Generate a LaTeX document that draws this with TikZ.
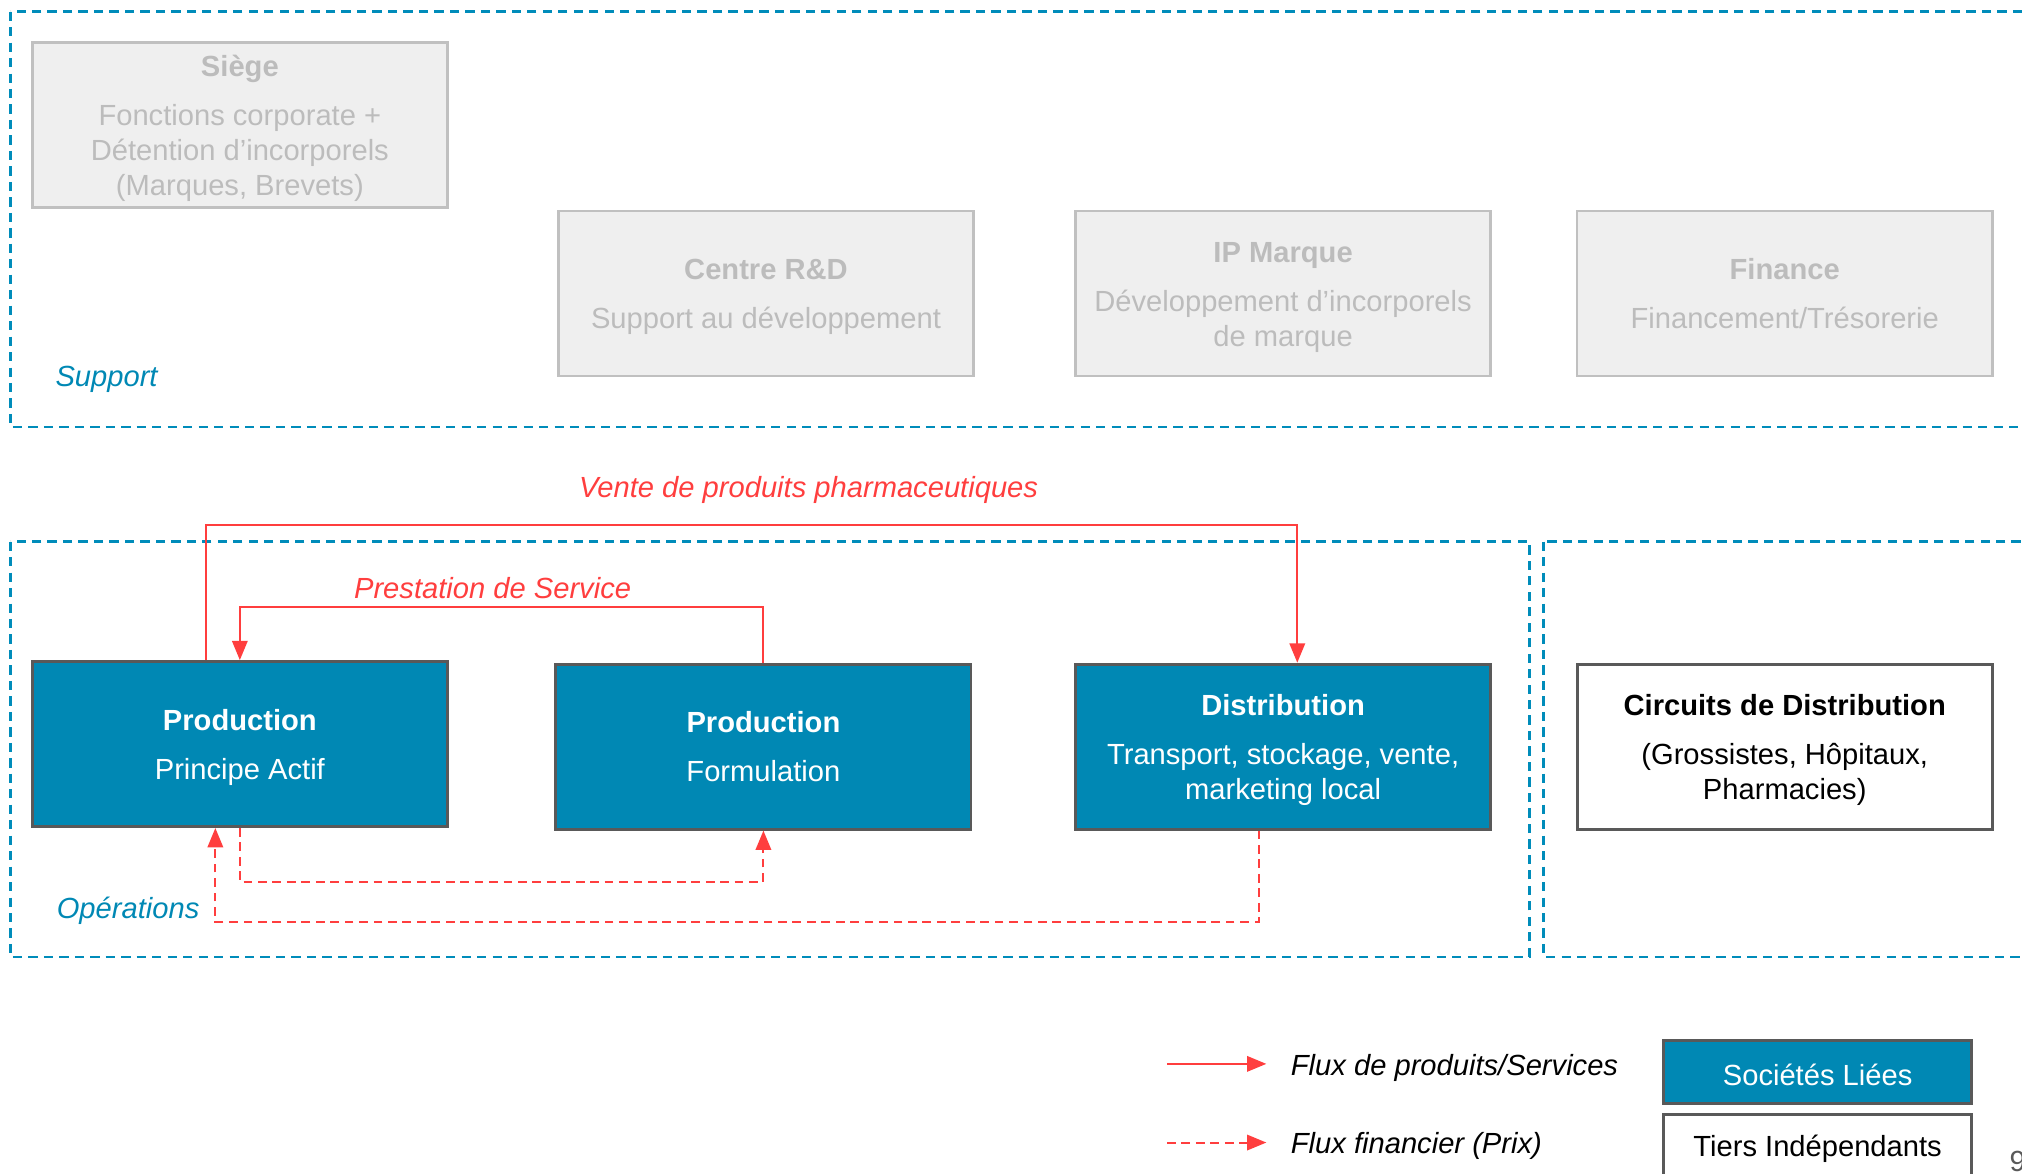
\documentclass[tikz,border=0pt]{standalone}
\usepackage{fontspec}
\setmainfont{Liberation Sans}
\usetikzlibrary{arrows.meta}
\newcommand{\hd}[1]{\rule{0pt}{10.8pt}\textbf{#1}}

\begin{document}
\begin{tikzpicture}[x=0.5pt,y=-0.5pt,
  font=\fontsize{11.3}{13.5}\selectfont,
  box/.style={rectangle,minimum width=161pt,minimum height=64pt,
    align=center,inner sep=2pt},
  supbox/.style={box,draw=g2,fill=g1,text=g3,line width=1pt},
  entbox/.style={box,draw=d1,fill=t1,text=white,line width=1.1pt},
  tierbox/.style={box,draw=d1,fill=white,text=black,line width=1.1pt},
  zone/.style={draw=t2,line width=1pt,dash pattern=on 3.6pt off 2.4pt},
  flux/.style={draw=r1,line width=0.8pt,
    -{Triangle[length=7.5pt,width=6pt]}},
  prix/.style={flux,dash pattern=on 3.4pt off 2.2pt},
  lbl/.style={text=r1,font=\fontsize{11.3}{13.5}\selectfont\itshape}]
 \definecolor{t1}{RGB}{0,136,180}
 \definecolor{t2}{RGB}{0,140,186}
 \definecolor{r1}{RGB}{255,62,62}
 \definecolor{g1}{RGB}{239,239,239}
 \definecolor{g2}{RGB}{192,192,192}
 \definecolor{g3}{RGB}{188,188,188}
 \definecolor{d1}{RGB}{89,89,89}
 \useasboundingbox (0,0) rectangle (1568,910);
 \clip (0,0) rectangle (1568,910);

 % zones
 \draw[zone] (8,9) rectangle (1600,331);
 \draw[zone] (8,420) rectangle (1186,742);
 \draw[zone] (1197,420) rectangle (1600,742);
 \node[anchor=west,text=t1,font=\fontsize{11.3}{13.5}\selectfont\itshape]
   (support) at (36,294) {Support};
 \node[anchor=west,text=t1,font=\fontsize{11.3}{13.5}\selectfont\itshape]
   (operations) at (37,706) {Opérations};

 % support
 \node[supbox] (siege) at (186,97)
   {\hd{Siège}\\[5.5pt]Fonctions corporate +\\Détention d’incorporels\\(Marques, Brevets)};
 \node[supbox] (rd) at (594,227.5)
   {\hd{Centre R\&D}\\[5.5pt]Support au développement};
 \node[supbox] (ip) at (995,227.5)
   {\hd{IP Marque}\\[5.5pt]Développement d’incorporels\\de marque};
 \node[supbox] (fin) at (1384,227.5)
   {\textbf{Finance}\\[5.5pt]Financement/Trésorerie};

 % operations
 \node[entbox] (pa) at (186,577) {\hd{Production}\\[5.5pt]Principe Actif};
 \node[entbox] (form) at (592,579) {\textbf{Production}\\[5.5pt]Formulation};
 \node[entbox] (dist) at (995,579)
   {\hd{Distribution}\\[5.5pt]Transport, stockage, vente,\\marketing local};
 \node[tierbox] (circ) at (1384,579)
   {\hd{Circuits de Distribution}\\[5.5pt](Grossistes, Hôpitaux,\\Pharmacies)};

 % flux
 \draw[flux] ([xshift=-13pt]pa.north) |- (1006,407) -- ([xshift=5.5pt]dist.north);
 \node[lbl] (vente) at (627,380) {Vente de produits pharmaceutiques};
 \draw[flux] (form.north) |- (186,471) -- (pa.north);
 \node[lbl] (prest) at (382,456) {Prestation de Service};
 \draw[prix] (pa.south) |- (592,684) -- (form.south);
 \draw[prix] ([xshift=-9.5pt]dist.south) |- (167,715) -- ([xshift=-9.5pt]pa.south);

 % legende
 \coordinate (l1a) at (905,825);
 \coordinate (l2a) at (905,886);
 \node[anchor=west,font=\fontsize{11.3}{13.5}\selectfont\itshape] (l1) at (994,828)
   {Flux de produits/Services};
 \node[anchor=west,font=\fontsize{11.3}{13.5}\selectfont\itshape] (l2) at (994,889)
   {Flux financier (Prix)};
 \draw[flux] (l1a) -- ++(77,0);
 \draw[prix] (l2a) -- ++(77,0);
 \node[entbox,minimum width=119.5pt,minimum height=24.5pt] (liees) at (1409.5,831.5)
   {\rule{0pt}{10.3pt}Sociétés Liées};
 \node[tierbox,minimum width=119.5pt,minimum height=24.5pt] (tiers) at (1409.5,888.5)
   {\rule{0pt}{10.3pt}Tiers Indépendants};
 \node[anchor=west,text=d1,inner sep=0pt] (page) at (1558,901) {9};
\end{tikzpicture}
\end{document}
